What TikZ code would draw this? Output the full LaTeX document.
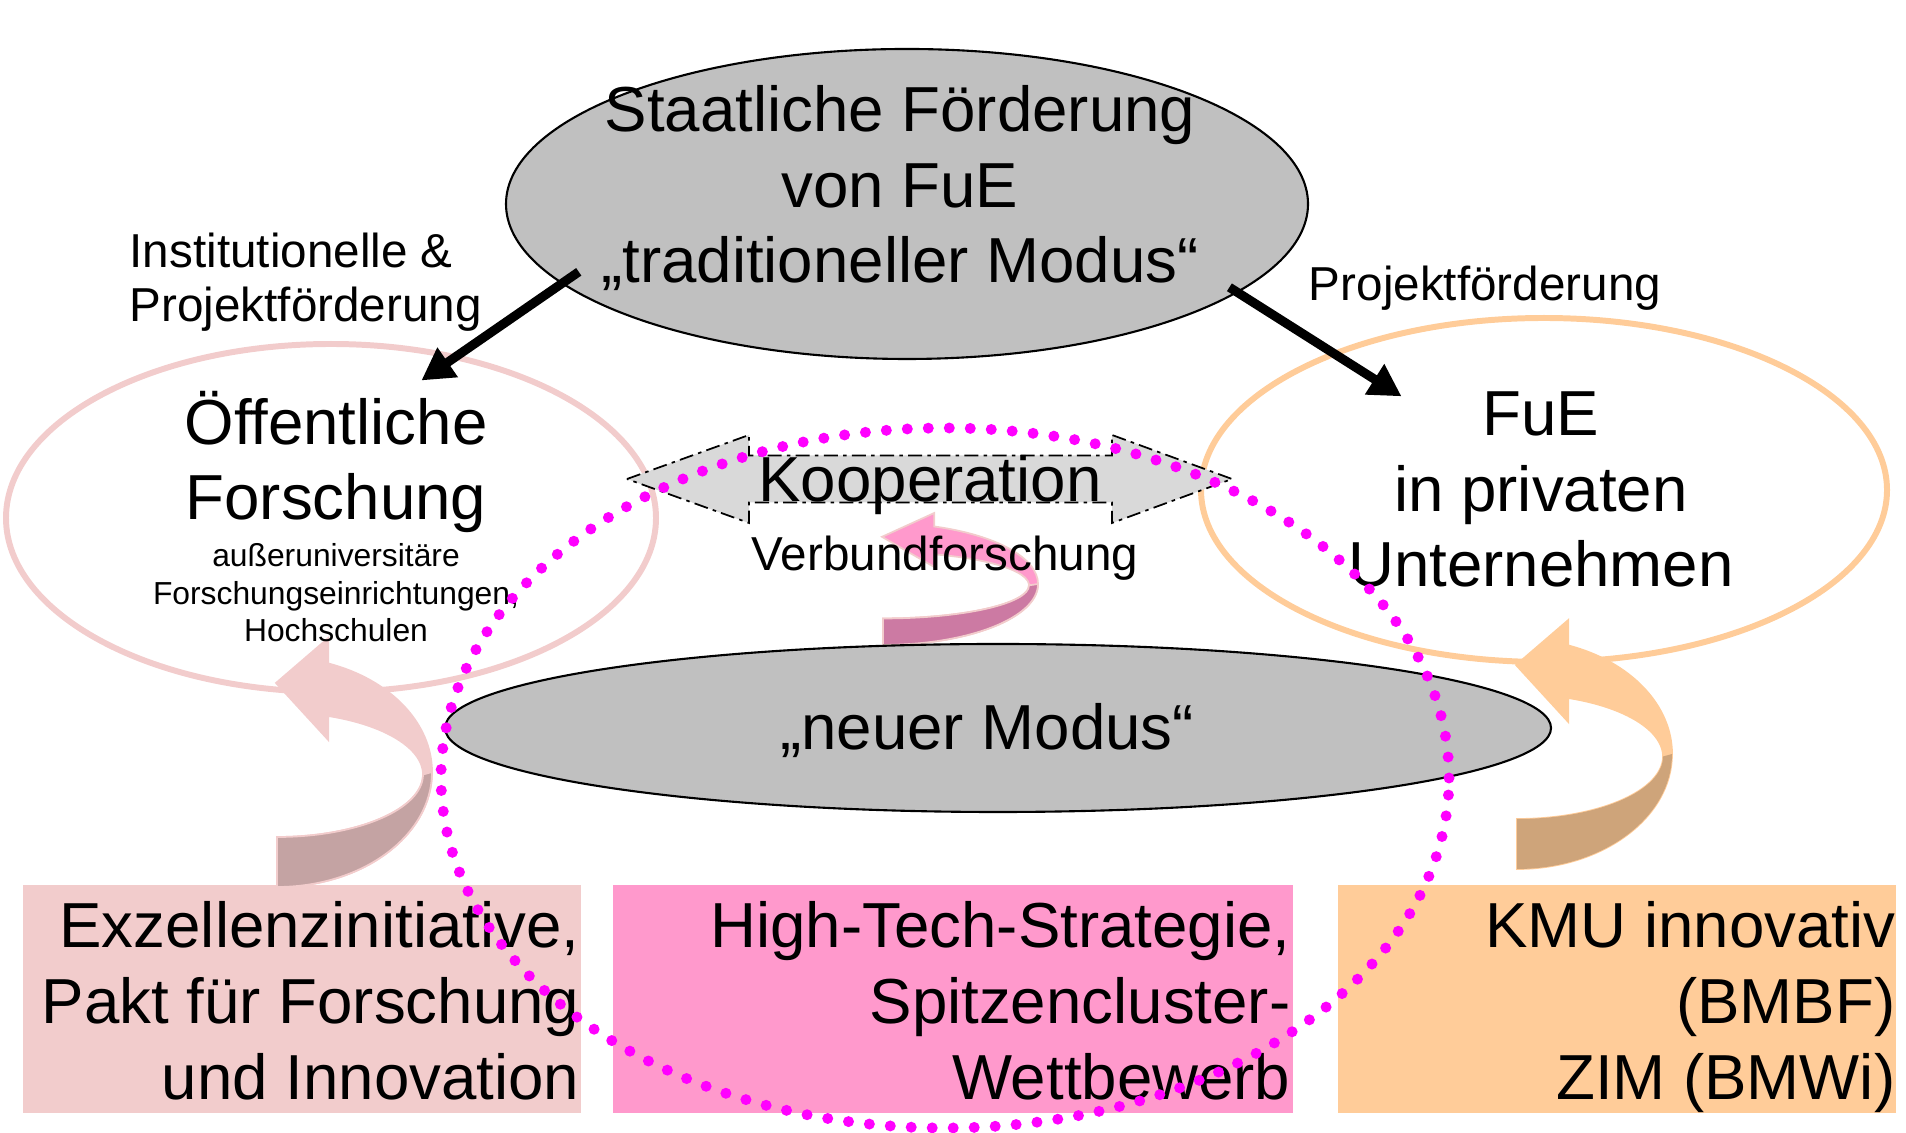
\documentclass[tikz,border=0pt]{standalone}
\usepackage{fontspec}
\setmainfont{Liberation Sans}
\usetikzlibrary{positioning,arrows.meta,shapes.geometric}

\definecolor{kastenrosa}{RGB}{242,204,204}
\definecolor{rosadunkel}{RGB}{196,163,163}
\definecolor{kastenpink}{RGB}{255,153,204}
\definecolor{pinkdunkel}{RGB}{204,122,163}
\definecolor{kastenorange}{RGB}{255,204,153}
\definecolor{orangedunkel}{RGB}{206,164,122}
\definecolor{grau}{RGB}{192,192,192}
\definecolor{hellgrau}{RGB}{217,217,217}
\definecolor{punktfarbe}{RGB}{255,0,255}

\tikzset{
  gross/.style={font=\fontsize{18.1}{21.5}\selectfont, align=center, inner sep=0pt},
  mittel/.style={font=\fontsize{13.55}{15.6}\selectfont, inner sep=0pt},
  klein/.style={font=\fontsize{9.05}{10.8}\selectfont, align=center, inner sep=0pt},
  oval/.style={ellipse, inner sep=0pt},
  kasten/.style={rectangle, inner sep=0pt, minimum height=2.28cm},
  pfeil/.style={line width=2.6pt, -{Triangle[length=0.32cm,width=0.34cm]}}
}

\begin{document}
\begin{tikzpicture}
          \useasboundingbox (0,0) rectangle (19.06,11.32);

          % Kaesten unten
          \node[kasten, fill=kastenrosa, minimum width=5.58cm] (exzbox) at (3.02,1.33) {};
          \node[kasten, fill=kastenpink, minimum width=6.80cm] (htbox) at (9.53,1.33) {};
          \node[kasten, fill=kastenorange, minimum width=5.58cm] (kmubox) at (16.17,1.33) {};
          \node[gross, align=right, anchor=base east] (exz) at (5.80,0.33)
              {Exzellenzinitiative,\\Pakt für Forschung\\und Innovation};
          \node[gross, align=right, anchor=base east] (ht) at (12.91,0.33)
              {High-Tech-Strategie,\\Spitzencluster-\\Wettbewerb};
          \node[gross, align=right, anchor=base east] (kmu) at (18.96,0.33)
              {KMU innovativ\\(BMBF)\\ZIM (BMWi)};

          % Ellipsen links und rechts
          \node[oval, draw=kastenrosa, line width=1.7pt,
                minimum width=6.50cm, minimum height=3.48cm] (oeff) at (3.31,6.14) {};
          \node[oval, draw=kastenorange, line width=1.7pt,
                minimum width=6.86cm, minimum height=3.44cm] (fue) at (15.44,6.42) {};

          % Staatliche Foerderung oben
          \node[oval, draw, fill=grau, line width=0.6pt,
                minimum width=8.02cm, minimum height=3.10cm] (staat) at (9.07,9.28) {};
          \node[gross, anchor=base] (staattext) at (9.00,8.49)
              {Staatliche Förderung\\von FuE\\„traditioneller Modus“};

          % Pfeile
          \draw[pfeil, shorten <=-0.21cm, shorten >=-0.45cm] (staat.193.1) -- (oeff.52);
          \draw[pfeil, shorten <=-0.10cm, shorten >=-0.83cm] (staat.345.8) -- (fue.147.6);
          \node[mittel, align=left, anchor=base west] (institutionell) at (1.29,8.10)
              {Institutionelle \&\\Projektförderung};
          \node[mittel, anchor=base] (projekt) at (14.85,8.31) {Projektförderung};

          % Kooperation
          \filldraw[fill=hellgrau, draw=black, line width=0.5pt,
                dash pattern=on 4pt off 1.5pt on 1pt off 1.5pt]
              (6.27,6.53) -- (7.49,6.97) -- (7.49,6.765) -- (11.12,6.765) -- (11.12,6.97)
              -- (12.32,6.53) -- (11.12,6.09) -- (11.12,6.295) -- (7.49,6.295) -- (7.49,6.09) -- cycle;
          \node[gross, anchor=base] (koop) at (9.30,6.30) {Kooperation};

          % Rundpfeil links
          \begin{scope}[shift={(2.77,3.60)}]
              \filldraw[fill=kastenrosa, draw=kastenrosa, line width=0.5pt]
                  (0.513,1.087) -- (0.513,1.34) -- (-0.01,0.89) -- (0.513,0.32) -- (0.513,0.560)
                  arc[start angle=69.43, end angle=-90, x radius=1.46, y radius=0.625]
                  -- (0,-1.15) arc[start angle=-90, end angle=70.67, x radius=1.55, y radius=1.15] -- cycle;
              \filldraw[fill=rosadunkel, draw=kastenrosa, line width=0.5pt]
                  (0,-0.65) arc[start angle=-90, end angle=0, x radius=1.46, y radius=0.625]
                  -- (1.55,0) arc[start angle=0, end angle=-90, x radius=1.55, y radius=1.15] -- cycle;
          \end{scope}

          % Rundpfeil Mitte
          \begin{scope}[shift={(8.83,5.48)}, yscale=0.53]
              \filldraw[fill=kastenpink, draw=kastenrosa, line width=0.5pt]
                  (0.513,1.087) -- (0.513,1.34) -- (-0.01,0.89) -- (0.513,0.32) -- (0.513,0.560)
                  arc[start angle=69.43, end angle=-90, x radius=1.46, y radius=0.625]
                  -- (0,-1.15) arc[start angle=-90, end angle=70.67, x radius=1.55, y radius=1.15] -- cycle;
              \filldraw[fill=pinkdunkel, draw=kastenrosa, line width=0.5pt]
                  (0,-0.65) arc[start angle=-90, end angle=0, x radius=1.46, y radius=0.625]
                  -- (1.55,0) arc[start angle=0, end angle=-90, x radius=1.55, y radius=1.15] -- cycle;
          \end{scope}

          % Rundpfeil rechts
          \begin{scope}[shift={(15.17,3.78)}]
              \filldraw[fill=kastenorange, draw=kastenorange, line width=0.5pt]
                  (0.513,1.087) -- (0.513,1.34) -- (-0.01,0.89) -- (0.513,0.32) -- (0.513,0.560)
                  arc[start angle=69.43, end angle=-90, x radius=1.46, y radius=0.625]
                  -- (0,-1.15) arc[start angle=-90, end angle=70.67, x radius=1.55, y radius=1.15] -- cycle;
              \fill[orangedunkel]
                  (0,-0.65) arc[start angle=-90, end angle=0, x radius=1.46, y radius=0.625]
                  -- (1.55,0) arc[start angle=0, end angle=-90, x radius=1.55, y radius=1.15] -- cycle;
          \end{scope}

          \node[mittel, anchor=base] (verbund) at (9.45,5.61) {Verbundforschung};

          % neuer Modus
          \node[oval, draw, fill=grau, line width=0.6pt,
                minimum width=11.06cm, minimum height=1.68cm] (neu) at (9.98,4.04) {};
          \node[gross, anchor=base] (neutext) at (9.87,3.82) {„neuer Modus“};

          % Texte in den Ellipsen
          \node[gross, anchor=base] (oefftext) at (3.36,6.12) {Öffentliche\\Forschung};
          \node[klein, anchor=base] (oeffklein) at (3.36,4.90)
              {außeruniversitäre\\Forschungseinrichtungen,\\Hochschulen};
          \node[gross, anchor=base] (fuetext) at (15.41,5.45) {FuE\\in privaten\\Unternehmen};

          % gepunktete Ellipse
          \draw[punktfarbe, line width=0.11cm, line cap=round, dash pattern=on 0pt off 0.21cm]
              (9.45,3.54) ellipse [x radius=5.04, y radius=3.50];
\end{tikzpicture}
\end{document}
